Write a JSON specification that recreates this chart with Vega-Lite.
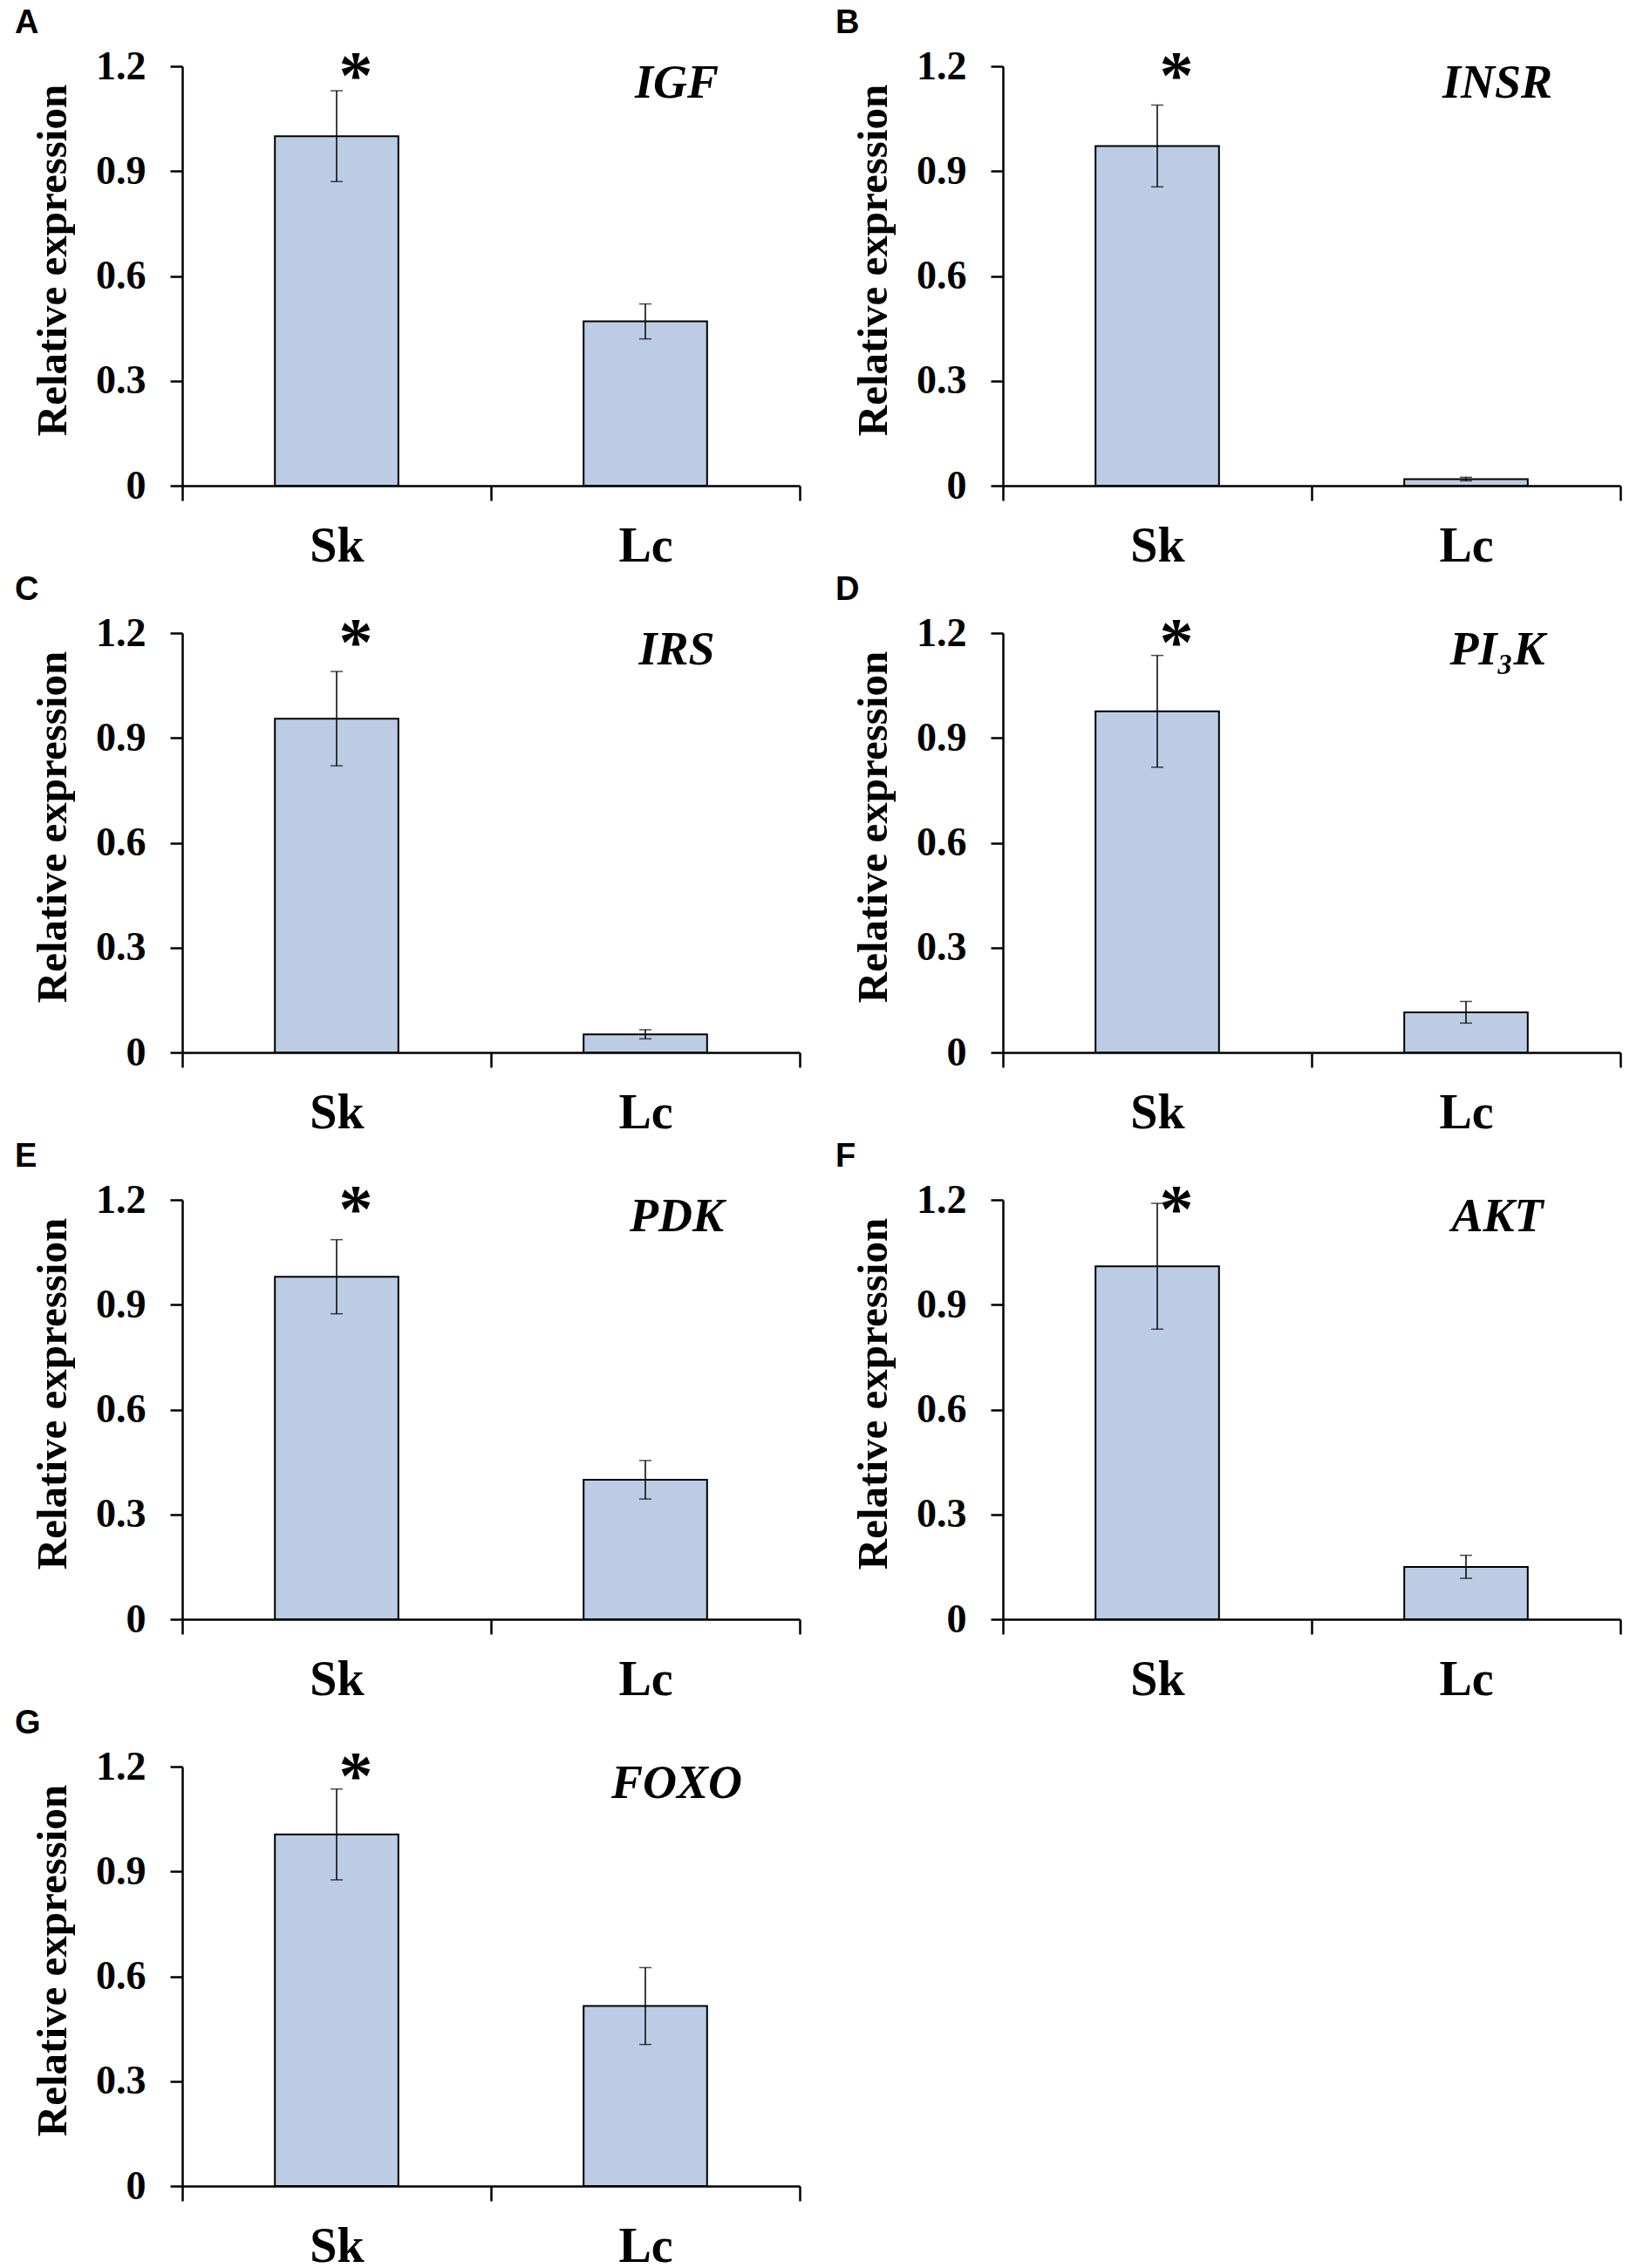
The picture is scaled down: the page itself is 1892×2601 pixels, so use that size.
{
  "$schema": "https://vega.github.io/schema/vega-lite/v6.json",
  "padding": {"left": 17, "top": 8, "right": 0, "bottom": 0},
  "columns": 2,
  "bounds": "flush",
  "spacing": {"row": 169, "column": 233},
  "data": {
    "values": [
      {"panel": "A", "gene": "IGF", "tissue": "Sk", "value": 1.0, "err": 0.13, "sig": "*"},
      {"panel": "A", "gene": "IGF", "tissue": "Lc", "value": 0.47, "err": 0.05, "sig": ""},
      {"panel": "B", "gene": "INSR", "tissue": "Sk", "value": 0.972, "err": 0.117, "sig": "*"},
      {"panel": "B", "gene": "INSR", "tissue": "Lc", "value": 0.019, "err": 0.005, "sig": ""},
      {"panel": "C", "gene": "IRS", "tissue": "Sk", "value": 0.955, "err": 0.135, "sig": "*"},
      {"panel": "C", "gene": "IRS", "tissue": "Lc", "value": 0.052, "err": 0.013, "sig": ""},
      {"panel": "D", "gene": "PI₃K", "tissue": "Sk", "value": 0.976, "err": 0.16, "sig": "*"},
      {"panel": "D", "gene": "PI₃K", "tissue": "Lc", "value": 0.115, "err": 0.031, "sig": ""},
      {"panel": "E", "gene": "PDK", "tissue": "Sk", "value": 0.98, "err": 0.106, "sig": "*"},
      {"panel": "E", "gene": "PDK", "tissue": "Lc", "value": 0.399, "err": 0.055, "sig": ""},
      {"panel": "F", "gene": "AKT", "tissue": "Sk", "value": 1.01, "err": 0.18, "sig": "*"},
      {"panel": "F", "gene": "AKT", "tissue": "Lc", "value": 0.15, "err": 0.033, "sig": ""},
      {"panel": "G", "gene": "FOXO", "tissue": "Sk", "value": 1.006, "err": 0.13, "sig": "*"},
      {"panel": "G", "gene": "FOXO", "tissue": "Lc", "value": 0.515, "err": 0.11, "sig": ""}
    ]
  },
  "concat": [
    {
      "title": {"text": "A", "fontSize": 38}, "width": 708, "height": 481,
      "transform": [{"filter": "datum.panel === 'A'"}],
      "encoding": {"x": {"field": "tissue", "type": "nominal", "sort": ["Sk", "Lc"], "title": null}},
      "layer": [
        {"mark": {"type": "bar", "width": {"band": 0.4}, "fill": "#bccce4", "stroke": "black", "strokeWidth": 2},
         "encoding": {"y": {"field": "value", "type": "quantitative", "title": "Relative expression", "scale": {"domain": [0, 1.2], "nice": false}, "axis": {"values": [0, 0.3, 0.6, 0.9, 1.2]}}}},
        {"mark": {"type": "errorbar", "color": "black", "ticks": {"size": 14, "thickness": 1.5}, "rule": {"strokeWidth": 1.5}},
         "encoding": {"y": {"field": "value", "type": "quantitative", "title": "Relative expression"}, "yError": {"field": "err"}}},
        {"mark": {"type": "text", "fontSize": 78, "fontWeight": "bold", "baseline": "alphabetic", "dx": 22},
         "encoding": {"y": {"datum": 1.11}, "text": {"field": "sig"}}},
        {"transform": [{"filter": "datum.tissue === 'Lc'"}],
         "mark": {"type": "text", "fontSize": 54, "fontWeight": "bold", "fontStyle": "italic", "baseline": "alphabetic", "dx": 36},
         "encoding": {"y": {"datum": 1.11}, "text": {"field": "gene"}}}
      ]
    },
    {
      "title": {"text": "B", "fontSize": 38}, "width": 708, "height": 481,
      "transform": [{"filter": "datum.panel === 'B'"}],
      "encoding": {"x": {"field": "tissue", "type": "nominal", "sort": ["Sk", "Lc"], "title": null}},
      "layer": [
        {"mark": {"type": "bar", "width": {"band": 0.4}, "fill": "#bccce4", "stroke": "black", "strokeWidth": 2},
         "encoding": {"y": {"field": "value", "type": "quantitative", "title": "Relative expression", "scale": {"domain": [0, 1.2], "nice": false}, "axis": {"values": [0, 0.3, 0.6, 0.9, 1.2]}}}},
        {"mark": {"type": "errorbar", "color": "black", "ticks": {"size": 14, "thickness": 1.5}, "rule": {"strokeWidth": 1.5}},
         "encoding": {"y": {"field": "value", "type": "quantitative", "title": "Relative expression"}, "yError": {"field": "err"}}},
        {"mark": {"type": "text", "fontSize": 78, "fontWeight": "bold", "baseline": "alphabetic", "dx": 22},
         "encoding": {"y": {"datum": 1.11}, "text": {"field": "sig"}}},
        {"transform": [{"filter": "datum.tissue === 'Lc'"}],
         "mark": {"type": "text", "fontSize": 54, "fontWeight": "bold", "fontStyle": "italic", "baseline": "alphabetic", "dx": 36},
         "encoding": {"y": {"datum": 1.11}, "text": {"field": "gene"}}}
      ]
    },
    {
      "title": {"text": "C", "fontSize": 38}, "width": 708, "height": 481,
      "transform": [{"filter": "datum.panel === 'C'"}],
      "encoding": {"x": {"field": "tissue", "type": "nominal", "sort": ["Sk", "Lc"], "title": null}},
      "layer": [
        {"mark": {"type": "bar", "width": {"band": 0.4}, "fill": "#bccce4", "stroke": "black", "strokeWidth": 2},
         "encoding": {"y": {"field": "value", "type": "quantitative", "title": "Relative expression", "scale": {"domain": [0, 1.2], "nice": false}, "axis": {"values": [0, 0.3, 0.6, 0.9, 1.2]}}}},
        {"mark": {"type": "errorbar", "color": "black", "ticks": {"size": 14, "thickness": 1.5}, "rule": {"strokeWidth": 1.5}},
         "encoding": {"y": {"field": "value", "type": "quantitative", "title": "Relative expression"}, "yError": {"field": "err"}}},
        {"mark": {"type": "text", "fontSize": 78, "fontWeight": "bold", "baseline": "alphabetic", "dx": 22},
         "encoding": {"y": {"datum": 1.11}, "text": {"field": "sig"}}},
        {"transform": [{"filter": "datum.tissue === 'Lc'"}],
         "mark": {"type": "text", "fontSize": 54, "fontWeight": "bold", "fontStyle": "italic", "baseline": "alphabetic", "dx": 36},
         "encoding": {"y": {"datum": 1.11}, "text": {"field": "gene"}}}
      ]
    },
    {
      "title": {"text": "D", "fontSize": 38}, "width": 708, "height": 481,
      "transform": [{"filter": "datum.panel === 'D'"}],
      "encoding": {"x": {"field": "tissue", "type": "nominal", "sort": ["Sk", "Lc"], "title": null}},
      "layer": [
        {"mark": {"type": "bar", "width": {"band": 0.4}, "fill": "#bccce4", "stroke": "black", "strokeWidth": 2},
         "encoding": {"y": {"field": "value", "type": "quantitative", "title": "Relative expression", "scale": {"domain": [0, 1.2], "nice": false}, "axis": {"values": [0, 0.3, 0.6, 0.9, 1.2]}}}},
        {"mark": {"type": "errorbar", "color": "black", "ticks": {"size": 14, "thickness": 1.5}, "rule": {"strokeWidth": 1.5}},
         "encoding": {"y": {"field": "value", "type": "quantitative", "title": "Relative expression"}, "yError": {"field": "err"}}},
        {"mark": {"type": "text", "fontSize": 78, "fontWeight": "bold", "baseline": "alphabetic", "dx": 22},
         "encoding": {"y": {"datum": 1.11}, "text": {"field": "sig"}}},
        {"transform": [{"filter": "datum.tissue === 'Lc'"}],
         "mark": {"type": "text", "fontSize": 54, "fontWeight": "bold", "fontStyle": "italic", "baseline": "alphabetic", "dx": 36},
         "encoding": {"y": {"datum": 1.11}, "text": {"field": "gene"}}}
      ]
    },
    {
      "title": {"text": "E", "fontSize": 38}, "width": 708, "height": 481,
      "transform": [{"filter": "datum.panel === 'E'"}],
      "encoding": {"x": {"field": "tissue", "type": "nominal", "sort": ["Sk", "Lc"], "title": null}},
      "layer": [
        {"mark": {"type": "bar", "width": {"band": 0.4}, "fill": "#bccce4", "stroke": "black", "strokeWidth": 2},
         "encoding": {"y": {"field": "value", "type": "quantitative", "title": "Relative expression", "scale": {"domain": [0, 1.2], "nice": false}, "axis": {"values": [0, 0.3, 0.6, 0.9, 1.2]}}}},
        {"mark": {"type": "errorbar", "color": "black", "ticks": {"size": 14, "thickness": 1.5}, "rule": {"strokeWidth": 1.5}},
         "encoding": {"y": {"field": "value", "type": "quantitative", "title": "Relative expression"}, "yError": {"field": "err"}}},
        {"mark": {"type": "text", "fontSize": 78, "fontWeight": "bold", "baseline": "alphabetic", "dx": 22},
         "encoding": {"y": {"datum": 1.11}, "text": {"field": "sig"}}},
        {"transform": [{"filter": "datum.tissue === 'Lc'"}],
         "mark": {"type": "text", "fontSize": 54, "fontWeight": "bold", "fontStyle": "italic", "baseline": "alphabetic", "dx": 36},
         "encoding": {"y": {"datum": 1.11}, "text": {"field": "gene"}}}
      ]
    },
    {
      "title": {"text": "F", "fontSize": 38}, "width": 708, "height": 481,
      "transform": [{"filter": "datum.panel === 'F'"}],
      "encoding": {"x": {"field": "tissue", "type": "nominal", "sort": ["Sk", "Lc"], "title": null}},
      "layer": [
        {"mark": {"type": "bar", "width": {"band": 0.4}, "fill": "#bccce4", "stroke": "black", "strokeWidth": 2},
         "encoding": {"y": {"field": "value", "type": "quantitative", "title": "Relative expression", "scale": {"domain": [0, 1.2], "nice": false}, "axis": {"values": [0, 0.3, 0.6, 0.9, 1.2]}}}},
        {"mark": {"type": "errorbar", "color": "black", "ticks": {"size": 14, "thickness": 1.5}, "rule": {"strokeWidth": 1.5}},
         "encoding": {"y": {"field": "value", "type": "quantitative", "title": "Relative expression"}, "yError": {"field": "err"}}},
        {"mark": {"type": "text", "fontSize": 78, "fontWeight": "bold", "baseline": "alphabetic", "dx": 22},
         "encoding": {"y": {"datum": 1.11}, "text": {"field": "sig"}}},
        {"transform": [{"filter": "datum.tissue === 'Lc'"}],
         "mark": {"type": "text", "fontSize": 54, "fontWeight": "bold", "fontStyle": "italic", "baseline": "alphabetic", "dx": 36},
         "encoding": {"y": {"datum": 1.11}, "text": {"field": "gene"}}}
      ]
    },
    {
      "title": {"text": "G", "fontSize": 38}, "width": 708, "height": 481,
      "transform": [{"filter": "datum.panel === 'G'"}],
      "encoding": {"x": {"field": "tissue", "type": "nominal", "sort": ["Sk", "Lc"], "title": null}},
      "layer": [
        {"mark": {"type": "bar", "width": {"band": 0.4}, "fill": "#bccce4", "stroke": "black", "strokeWidth": 2},
         "encoding": {"y": {"field": "value", "type": "quantitative", "title": "Relative expression", "scale": {"domain": [0, 1.2], "nice": false}, "axis": {"values": [0, 0.3, 0.6, 0.9, 1.2]}}}},
        {"mark": {"type": "errorbar", "color": "black", "ticks": {"size": 14, "thickness": 1.5}, "rule": {"strokeWidth": 1.5}},
         "encoding": {"y": {"field": "value", "type": "quantitative", "title": "Relative expression"}, "yError": {"field": "err"}}},
        {"mark": {"type": "text", "fontSize": 78, "fontWeight": "bold", "baseline": "alphabetic", "dx": 22},
         "encoding": {"y": {"datum": 1.11}, "text": {"field": "sig"}}},
        {"transform": [{"filter": "datum.tissue === 'Lc'"}],
         "mark": {"type": "text", "fontSize": 54, "fontWeight": "bold", "fontStyle": "italic", "baseline": "alphabetic", "dx": 36},
         "encoding": {"y": {"datum": 1.11}, "text": {"field": "gene"}}}
      ]
    }
  ],
  "config": {
    "view": {"stroke": null},
    "font": "Liberation Serif",
    "scale": {"bandPaddingInner": 0, "bandPaddingOuter": 0},
    "text": {"font": "Liberation Serif", "color": "black"},
    "title": {"font": "Liberation Sans", "fontSize": 38, "fontWeight": "bold", "color": "black", "anchor": "start", "frame": "group", "dx": -192, "offset": 0, "baseline": "alphabetic"},
    "axis": {"grid": false, "domainColor": "black", "tickColor": "black", "labelColor": "black", "titleColor": "black", "labelFont": "Liberation Serif", "labelFontWeight": "bold", "titleFont": "Liberation Serif", "titleFontWeight": "bold", "domainWidth": 2.5, "tickWidth": 2.5},
    "axisX": {"labelFontSize": 56, "tickSize": 17, "labelPadding": 25, "labelAngle": 0, "tickBand": "extent"},
    "axisY": {"labelFontSize": 46, "tickSize": 14, "labelPadding": 28, "titleFontSize": 49, "titlePadding": 24, "titleY": 222, "format": ".1~f"}
  }
}
